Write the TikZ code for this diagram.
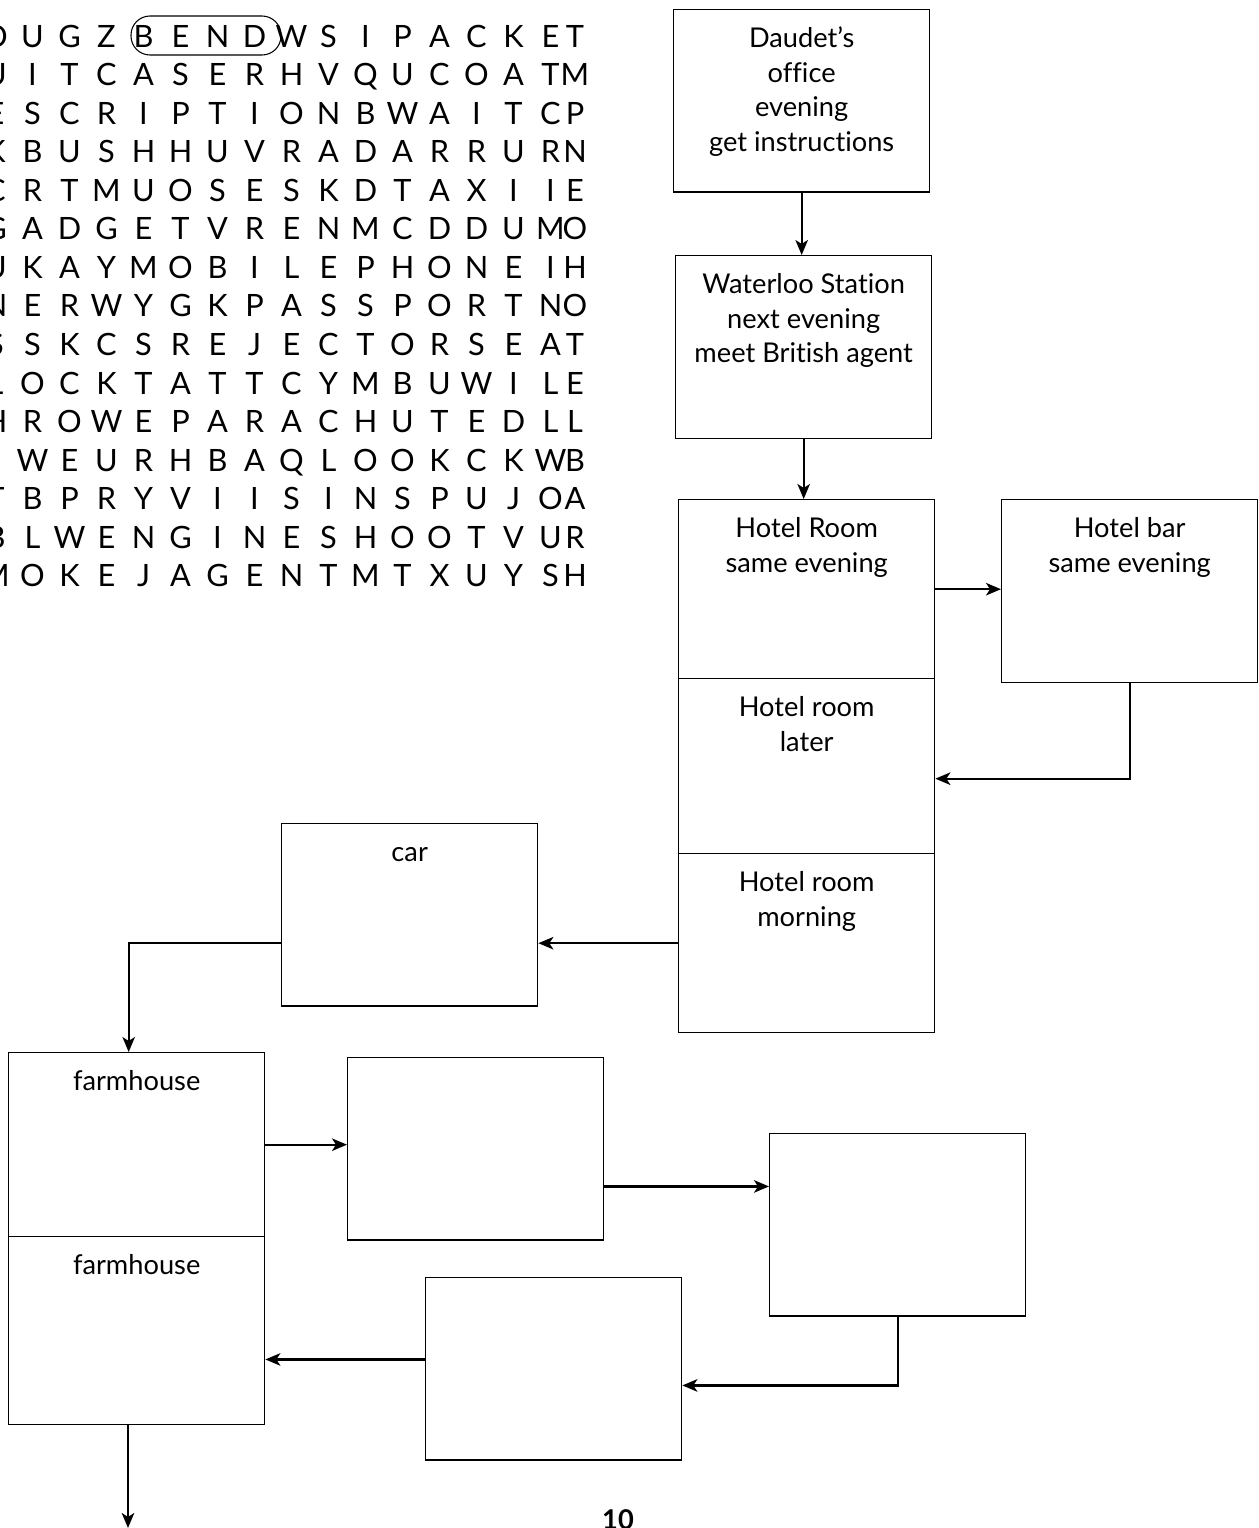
\documentclass[tikz,border=0pt]{standalone}
\usepackage{fontspec}
\setmainfont{Lato}[Ligatures={TeX,NoCommon,NoContextual},Contextuals={NoAlternate}]
\usetikzlibrary{arrows.meta}
\tikzset{
  box/.style={draw,line width=0.8pt,minimum width=5.12cm,minimum height=3.65cm,inner sep=0pt,anchor=north west},
  boxtext/.style={anchor=north,yshift=-0.27cm,inner sep=0pt,align=center,font=\fontsize{15.5}{19.84}\selectfont},
  link/.style={line width=1.25pt,-{Stealth[length=3mm,width=2.5mm,inset=0.8mm]}},
  gridletter/.style={anchor=base,inner sep=0pt,font=\fontsize{17.5}{20}\selectfont}
}
\begin{document}
\begin{tikzpicture}[x=0.02cm,y=-0.02cm]
      \useasboundingbox (0,0) rectangle (1258,1528);
      \foreach \row [count=\r from 0] in {{O,U,G,Z,B,E,N,D,W,S,I,P,A,C,K,E,T},{U,I,T,C,A,S,E,R,H,V,Q,U,C,O,A,T,M},
          {E,S,C,R,I,P,T,I,O,N,B,W,A,I,T,C,P},{K,B,U,S,H,H,U,V,R,A,D,A,R,R,U,R,N},{C,R,T,M,U,O,S,E,S,K,D,T,A,X,I,I,E},
          {G,A,D,G,E,T,V,R,E,N,M,C,D,D,U,M,O},{U,K,A,Y,M,O,B,I,L,E,P,H,O,N,E,I,H},{N,E,R,W,Y,G,K,P,A,S,S,P,O,R,T,N,O},
          {S,S,K,C,S,R,E,J,E,C,T,O,R,S,E,A,T},{L,O,C,K,T,A,T,T,C,Y,M,B,U,W,I,L,E},{H,R,O,W,E,P,A,R,A,C,H,U,T,E,D,L,L},
          {I,W,E,U,R,H,B,A,Q,L,O,O,K,C,K,W,B},{T,B,P,R,Y,V,I,I,S,I,N,S,P,U,J,O,A},{B,L,W,E,N,G,I,N,E,S,H,O,O,T,V,U,R},
          {M,O,K,E,J,A,G,E,N,T,M,T,X,U,Y,S,H}}
        \foreach \ch [count=\c from 0] in \row {
          \pgfmathsetmacro{\gx}{ifthenelse(\c<16,-4.5+37*\c,575)}
          \node[gridletter] (l\r-\c) at (\gx,47+38.57*\r) {\ch};
        }
      \draw[line width=0.6pt,rounded corners=0.38cm] (131,16) rectangle (281,55);

      \node[box] (daudet) at (673,9) {};
      \node[box,minimum height=3.66cm] (waterloo) at (675,255) {};
      \node[box,minimum height=3.58cm] (hroom) at (678,499) {};
      \node[box,minimum height=3.5cm] (hlater) at (678,678) {};
      \node[box,minimum height=3.58cm] (hmorn) at (678,853) {};
      \node[box,minimum height=3.66cm] (hbar) at (1001,499) {};
      \node[box] (car) at (281,823) {};
      \node[box,minimum height=3.68cm] (farmA) at (8,1052) {};
      \node[box,minimum height=3.76cm] (farmB) at (8,1236) {};
      \node[box] (boxa) at (347,1057) {};
      \node[box] (boxb) at (769,1133) {};
      \node[box] (boxc) at (425,1277) {};

      \node[boxtext] (daudet-t) at (daudet.north) {\strut Daudet’s\\office\\evening\\get instructions};
      \node[boxtext] (waterloo-t) at (waterloo.north) {\strut Waterloo Station\\next evening\\meet British agent};
      \node[boxtext] (hroom-t) at (hroom.north) {\strut Hotel Room\\same evening};
      \node[boxtext] (hlater-t) at (hlater.north) {\strut Hotel room\\later};
      \node[boxtext] (hmorn-t) at (hmorn.north) {\strut Hotel room\\morning};
      \node[boxtext] (hbar-t) at (hbar.north) {\strut Hotel bar\\same evening};
      \node[boxtext] (car-t) at (car.north) {\strut car};
      \node[boxtext] (farmA-t) at (farmA.north) {\strut farmhouse};
      \node[boxtext] (farmB-t) at (farmB.north) {\strut farmhouse};

      \coordinate (exit) at (128,1528);
      \draw[link] (daudet.south) -- (daudet.south |- waterloo.north);
      \draw[link] (waterloo.south) -- (waterloo.south |- hroom.north);
      \draw[link] (hroom.east) -- (hroom.east -| hbar.west);
      \draw[link] (hbar.south) |- ([yshift=-0.25cm]hlater.east);
      \draw[link] (hmorn.west) -- (hmorn.west -| car.east);
      \draw[link] ([yshift=-0.56cm]car.west) -| ([xshift=-0.16cm]farmA.north);
      \draw[link] (farmA.east) -- (farmA.east -| boxa.west);
      \draw[link] ([yshift=-0.75cm]boxa.east) -- ([yshift=-0.75cm]boxa.east -| boxb.west);
      \draw[link] (boxb.south) |- ([yshift=-0.33cm]boxc.east);
      \draw[link] ([yshift=0.19cm]boxc.west) -- ([yshift=0.19cm]boxc.west -| farmB.east);
      \draw[link] (exit |- farmB.south) -- (exit);

      \node[anchor=base,inner sep=0pt,font=\fontsize{15.5}{18}\selectfont\bfseries] (pagenum) at (618,1529) {10};
    \end{tikzpicture}
\end{document}
